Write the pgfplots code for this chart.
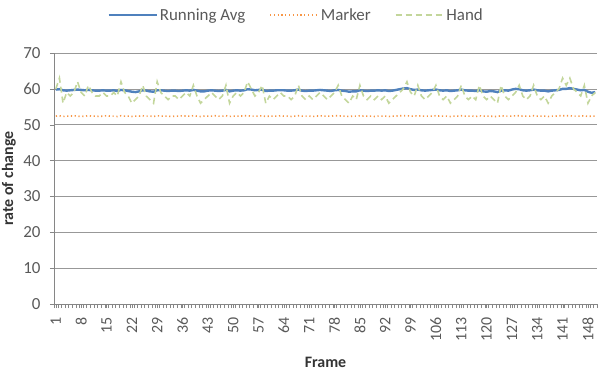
\documentclass[border=0pt]{standalone}
\usepackage{pgfplots}
\usepackage{pgfplotstable}
\pgfplotsset{compat=1.18}
\usepackage{fontspec}
\setmainfont{Carlito}
\definecolor{ravgc}{HTML}{4F81BD}
\definecolor{markc}{HTML}{F79646}
\definecolor{handc}{HTML}{C3D69B}
\definecolor{txt}{HTML}{595959}
\definecolor{axl}{HTML}{868686}
\pgfplotstableread{
x ra mk hd
1 59.8 52.4 60
2 59.9 52.5 63
3 59.6 52.3 56
4 59.5 52.4 59
5 59.6 52.4 58
6 59.7 52.5 59
7 59.8 52.4 62
8 59.7 52.3 59
9 59.6 52.4 58
10 59.7 52.5 61
11 59.6 52.4 59
12 59.5 52.4 58
13 59.5 52.3 58
14 59.6 52.4 59
15 59.5 52.5 58
16 59.5 52.4 58
17 59.6 52.4 59
18 59.4 52.3 58
19 59.7 52.5 62
20 59.6 52.4 59
21 59.4 52.4 58
22 59.2 52.3 56
23 59.1 52.4 57
24 59.3 52.4 58
25 59.6 52.5 61
26 59.5 52.4 58
27 59.3 52.4 57
28 59.2 52.3 56
29 59.6 52.5 62
30 59.6 52.4 59
31 59.5 52.4 58
32 59.4 52.4 57
33 59.5 52.3 58
34 59.5 52.4 58
35 59.4 52.4 57
36 59.5 52.5 58
37 59.6 52.4 59
38 59.5 52.4 58
39 59.7 52.5 61
40 59.5 52.4 58
41 59.3 52.3 56
42 59.3 52.4 57
43 59.5 52.4 58
44 59.6 52.4 59
45 59.5 52.5 58
46 59.4 52.4 57
47 59.5 52.4 58
48 59.7 52.5 61
49 59.3 52.3 56
50 59.5 52.4 58
51 59.6 52.4 59
52 59.5 52.4 58
53 59.6 52.5 59
54 59.9 52.5 62
55 59.8 52.4 60
56 59.6 52.4 58
57 59.7 52.4 59
58 59.8 52.5 61
59 59.4 52.3 56
60 59.5 52.4 58
61 59.5 52.4 57
62 59.6 52.4 58
63 59.6 52.5 59
64 59.6 52.4 58
65 59.5 52.4 58
66 59.5 52.3 57
67 59.6 52.4 58
68 59.8 52.5 61
69 59.5 52.4 58
70 59.4 52.4 57
71 59.5 52.4 58
72 59.5 52.3 57
73 59.6 52.4 58
74 59.7 52.5 59
75 59.6 52.4 58
76 59.5 52.4 57
77 59.4 52.4 58
78 59.6 52.5 59
79 59.7 52.5 61
80 59.5 52.4 58
81 59.4 52.4 57
82 59.2 52.3 56
83 59.3 52.4 58
84 59.3 52.4 57
85 59.6 52.5 61
86 59.5 52.4 58
87 59.4 52.4 57
88 59.5 52.4 58
89 59.5 52.3 57
90 59.6 52.4 58
91 59.5 52.4 57
92 59.6 52.4 58
93 59.4 52.3 56
94 59.5 52.4 57
95 59.7 52.4 58
96 59.9 52.5 59
97 60.1 52.5 60
98 60.2 52.5 62
99 59.9 52.4 59
100 59.7 52.4 58
101 59.8 52.5 61
102 59.6 52.4 58
103 59.5 52.4 57
104 59.6 52.4 58
105 59.7 52.4 59
106 59.8 52.5 61
107 59.6 52.4 58
108 59.5 52.4 57
109 59.6 52.4 58
110 59.4 52.3 56
111 59.5 52.4 57
112 59.6 52.4 58
113 59.8 52.5 61
114 59.6 52.4 58
115 59.5 52.4 57
116 59.5 52.4 58
117 59.4 52.3 57
118 59.6 52.5 61
119 59.3 52.4 58
120 59.2 52.4 57
121 59.4 52.4 58
122 59.3 52.3 57
123 59.1 52.3 56
124 59.5 52.5 61
125 59.6 52.4 58
126 59.5 52.4 57
127 59.8 52.4 58
128 60.0 52.5 59
129 59.9 52.5 61
130 59.6 52.4 58
131 59.5 52.4 57
132 59.6 52.4 58
133 59.8 52.5 61
134 59.6 52.4 58
135 59.5 52.4 57
136 59.5 52.4 58
137 59.3 52.3 56
138 59.5 52.4 58
139 59.6 52.4 59
140 59.7 52.5 60
141 60.0 52.5 63
142 60.0 52.5 61
143 60.2 52.5 63
144 60.0 52.4 60
145 59.8 52.4 59
146 59.6 52.4 58
147 59.7 52.5 61
148 59.2 52.3 56
149 58.9 52.4 58
150 59.1 52.4 59
}\data
\begin{document}
\begin{tikzpicture}
\begin{axis}[
  name=ax,
  scale only axis,
  width=543bp, height=251bp,
  xmin=0.5, xmax=150.5,
  ymin=0, ymax=70,
  ytick={0,10,...,70},
  xtick={1,8,...,148},
  minor xtick={0.5,1.5,...,150.5},
  ymajorgrids,
  major grid style={axl!85, line width=0.6pt},
  axis line style={axl},
  axis x line*=bottom,
  axis y line*=left,
  tick align=outside,
  major tick length=4bp,
  minor tick length=4bp,
  tick style={axl},
  /pgf/number format/assume math mode=true,
  yticklabel style={font=\fontsize{17}{19}\selectfont, text=txt, xshift=-6bp},
  xticklabel style={font=\fontsize{16}{18}\selectfont, text=txt, rotate=90, anchor=east, xshift=-6bp},
  xlabel={\textbf{Frame}},
  ylabel={\textbf{rate of change}},
  xlabel style={font=\fontsize{16}{18}\selectfont, text=black!80, at={(axis description cs:0.5,0)}, anchor=center, yshift=-58bp},
  ylabel style={font=\fontsize{16}{18}\selectfont, text=black!80, at={(axis description cs:-0.083,0.5)}, anchor=center},
  legend columns=3,
  legend image code/.code={\draw[#1] (0bp,0bp) -- (48bp,0bp);},
  legend style={at={(0.446,1)}, anchor=center, yshift=38bp, draw=none, fill=none,
    font=\fontsize{17}{19}\selectfont, text=txt, inner xsep=0pt,
    /tikz/every even column/.append style={column sep=22bp}},
]
\addplot[ravgc, line width=2.4pt, no marks] table[x=x, y=ra] {\data};
\addlegendentry{Running Avg}
\addplot[markc, line width=1.6pt, dash pattern=on 1.2bp off 2.6bp, no marks] table[x=x, y=mk] {\data};
\addlegendentry{Marker}
\addplot[handc, line width=1.6pt, dash pattern=on 6bp off 4bp, no marks] table[x=x, y=hd] {\data};
\addlegendentry{Hand}
\end{axis}
\pgfresetboundingbox
\path ([shift={(-54bp,-80bp)}]ax.south west) rectangle ([shift={(5bp,53bp)}]ax.north east);
\end{tikzpicture}
\end{document}
